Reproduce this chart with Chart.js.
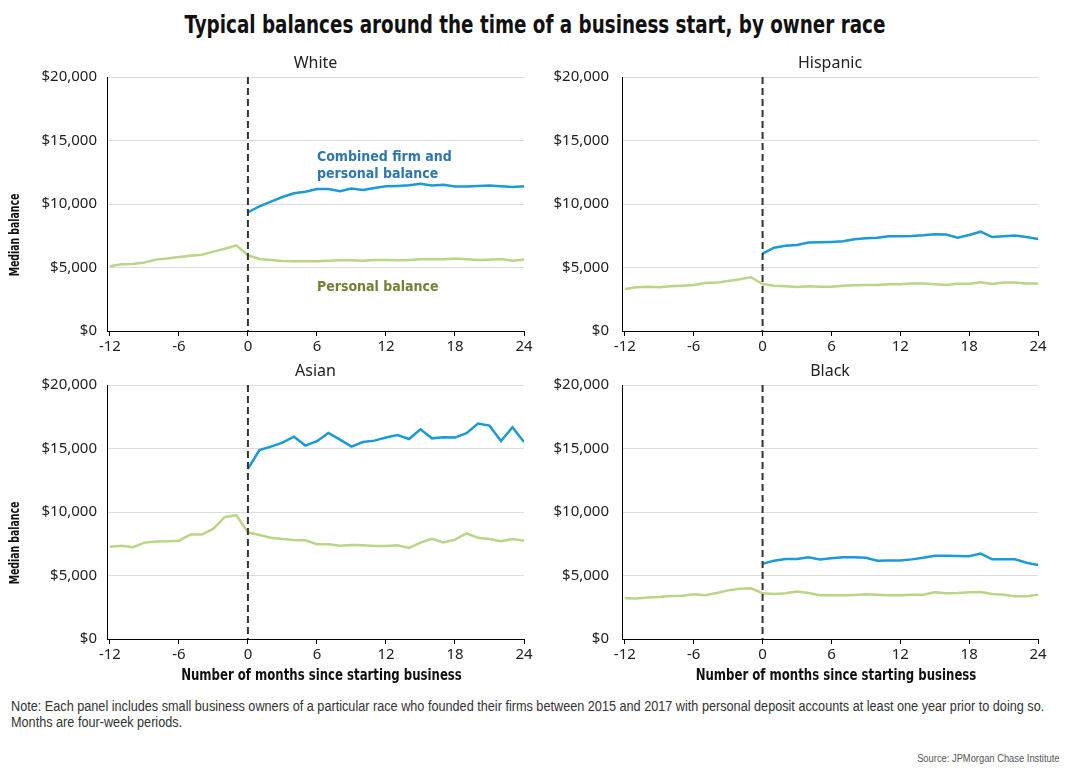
<!DOCTYPE html>
<html>
<head>
<meta charset="utf-8">
<script src="https://cdn.jsdelivr.net/npm/chart.js@4.4.1/dist/chart.umd.min.js"></script>
<style>
  body { margin: 0; background: #fff; width: 1070px; height: 770px; position: relative; overflow: hidden; }
  canvas { position: absolute; }
  #title { position: absolute; top: 10px; left: 0; width: 1070px; text-align: center; white-space: nowrap;
    font: bold 25px "DejaVu Sans Condensed", sans-serif; color: #111; transform: scaleX(0.815); }
  #note { position: absolute; left: 11px; top: 698px; white-space: nowrap; transform: scaleX(0.905); transform-origin: left top;
    font: 14px "Liberation Sans", sans-serif; color: #333; line-height: 16px; }
  #source { position: absolute; right: 10px; top: 752px; transform: scaleX(0.85); transform-origin: right top;
    font: 11px "Liberation Sans", sans-serif; color: #555; }
</style>
</head>
<body>
<div id="title">Typical balances around the time of a business start, by owner race</div>
<canvas id="white" width="540" height="321" style="left:0;top:40px"></canvas>
<canvas id="hispanic" width="514" height="321" style="left:540px;top:40px"></canvas>
<canvas id="asian" width="540" height="339" style="left:0;top:350px"></canvas>
<canvas id="black" width="514" height="339" style="left:540px;top:350px"></canvas>
<div id="note">Note: Each panel includes small business owners of a particular race who founded their firms between 2015 and 2017 with personal deposit accounts at least one year prior to doing so.<br>Months are four-week periods.</div>
<div id="source">Source: JPMorgan Chase Institute</div>
<script>
const months = [-12,-11,-10,-9,-8,-7,-6,-5,-4,-3,-2,-1,0,1,2,3,4,5,6,7,8,9,10,11,12,13,14,15,16,17,18,19,20,21,22,23,24];
const xTicks = [-12, -6, 0, 6, 12, 18, 24];
const yTicks = [0, 5000, 10000, 15000, 20000];

// personal balance, months -12..24
const whitePersonal = [5100,5250,5280,5400,5620,5700,5830,5930,6010,6250,6480,6750,5960,5670,5590,5510,5500,5490,5490,5540,5570,5570,5540,5590,5590,5570,5590,5640,5640,5640,5700,5640,5590,5620,5670,5540,5640];
const hispanicPersonal = [3310,3440,3490,3440,3520,3570,3620,3780,3810,3940,4070,4230,3700,3570,3520,3470,3520,3490,3490,3570,3600,3620,3620,3680,3680,3750,3750,3680,3620,3730,3730,3830,3700,3810,3810,3750,3750];
const asianPersonal = [7270,7350,7220,7590,7670,7690,7740,8220,8220,8690,9610,9740,8400,8190,7980,7880,7800,7770,7460,7460,7350,7400,7380,7320,7320,7380,7170,7590,7880,7610,7820,8320,7980,7880,7690,7880,7740];
const blackPersonal = [3200,3180,3260,3310,3390,3410,3520,3440,3620,3830,3960,3990,3600,3540,3600,3730,3620,3440,3440,3440,3470,3520,3490,3440,3440,3490,3490,3680,3600,3620,3680,3700,3540,3490,3360,3360,3490];

// combined firm and personal balance, months 0..24
const whiteCombined = [9350,9820,10190,10550,10840,10970,11180,11180,11000,11210,11100,11260,11390,11420,11470,11600,11450,11520,11370,11370,11420,11450,11390,11340,11390];
const hispanicCombined = [6090,6560,6720,6770,6960,6980,7010,7060,7220,7300,7350,7460,7460,7480,7530,7610,7590,7350,7560,7820,7400,7460,7510,7400,7250];
const asianCombined = [13390,14880,15150,15460,15930,15230,15570,16220,15700,15150,15510,15620,15860,16060,15750,16510,15800,15880,15860,16200,16960,16800,15590,16670,15510];
const blackCombined = [5930,6170,6300,6300,6430,6270,6350,6430,6430,6400,6170,6190,6190,6270,6400,6560,6560,6530,6510,6720,6270,6270,6270,6010,5830];

const blue = '#1a9ad6';
const green = '#b9d585';
const tickFont = { family: '"Noto Sans", sans-serif', size: 15 };

// panel title, centred over the plot area
const panelTitle = {
  id: 'panelTitle',
  afterDraw(chart, args, opts) {
    const { ctx, chartArea } = chart;
    ctx.save();
    ctx.font = '16px "Noto Sans", sans-serif';
    ctx.fillStyle = '#222';
    ctx.textAlign = 'center';
    ctx.textBaseline = 'middle';
    ctx.fillText(opts.text, (chartArea.left + chartArea.right) / 2, chartArea.top - 14);
    if (opts.yTitle) {
      ctx.translate(15, (chartArea.top + chartArea.bottom) / 2 + 31);
      ctx.rotate(-Math.PI / 2);
      ctx.scale(0.74, 1);
      ctx.font = 'bold 14px "DejaVu Sans Condensed", sans-serif';
      ctx.fillStyle = '#111';
      ctx.fillText('Median balance', 0, 0);
    }
    ctx.restore();
  }
};

// x-axis title, drawn a bit condensed
const xTitle = {
  id: 'xTitle',
  afterDraw(chart, args, opts) {
    if (!opts.show) return;
    const { ctx, chartArea } = chart;
    ctx.save();
    ctx.translate((chartArea.left + chartArea.right) / 2 + 6, chartArea.bottom + 37);
    ctx.scale(0.815, 1);
    ctx.font = 'bold 16px "DejaVu Sans Condensed", sans-serif';
    ctx.fillStyle = '#111';
    ctx.textAlign = 'center';
    ctx.textBaseline = 'middle';
    ctx.fillText('Number of months since starting business', 0, 0);
    ctx.restore();
  }
};

const startLine = {
  id: 'startLine',
  afterDatasetsDraw(chart) {
    const { ctx, chartArea, scales } = chart;
    const x = scales.x.getPixelForValue(0);
    ctx.save();
    ctx.strokeStyle = '#333';
    ctx.lineWidth = 2;
    ctx.setLineDash([7, 4]);
    ctx.beginPath();
    ctx.moveTo(x, chartArea.top);
    ctx.lineTo(x, chartArea.bottom);
    ctx.stroke();
    ctx.restore();
  }
};

const notes = {
  id: 'notes',
  afterDraw(chart, args, opts) {
    if (!opts.items) return;
    const { ctx, scales } = chart;
    ctx.save();
    ctx.font = 'bold 14px "DejaVu Sans Condensed", sans-serif';
    ctx.textAlign = 'left';
    ctx.textBaseline = 'middle';
    opts.items.forEach(n => {
      ctx.fillStyle = n.color;
      ctx.fillText(n.text, scales.x.getPixelForValue(n.x), scales.y.getPixelForValue(n.y));
    });
    ctx.restore();
  }
};

function makePanel(id, title, personal, combined, cfg) {
  const padded = months.map((m, i) => (m < 0 ? null : combined[i - 12]));
  return new Chart(document.getElementById(id), {
    type: 'line',
    data: {
      labels: months,
      datasets: [
        { label: 'Personal balance', data: personal, borderColor: green, borderWidth: 2.5, pointRadius: 0, tension: 0 },
        { label: 'Combined firm and personal balance', data: padded, borderColor: blue, borderWidth: 2.5, pointRadius: 0, tension: 0 }
      ]
    },
    options: {
      responsive: false,
      animation: false,
      layout: { padding: { top: cfg.top, right: 16, left: 0, bottom: 0 } },
      plugins: {
        legend: { display: false },
        tooltip: { enabled: false },
        panelTitle: { text: title, yTitle: cfg.yTitle },
        xTitle: { show: cfg.xTitle },
        notes: { items: cfg.notes }
      },
      scales: {
        x: {
          type: 'linear',
          min: -12.25,
          max: 24,
          afterBuildTicks: s => { s.ticks = xTicks.map(v => ({ value: v })); },
          afterFit: s => { s.height = cfg.xHeight; },
          grid: { drawOnChartArea: false, tickLength: 5, color: '#000' },
          border: { color: '#000', width: 1 },
          ticks: { font: tickFont, color: '#222', padding: 2, maxRotation: 0 }
        },
        y: {
          min: 0,
          max: 20000,
          afterBuildTicks: s => { s.ticks = yTicks.map(v => ({ value: v })); },
          afterFit: s => { s.width = cfg.yWidth; },
          grid: { color: '#dcdcdc', drawTicks: false },
          border: { color: '#000', width: 1 },
          ticks: { font: tickFont, color: '#222', padding: cfg.yPad, callback: v => '$' + v.toLocaleString('en-US') }
        }
      }
    },
    plugins: [panelTitle, xTitle, startLine, notes]
  });
}

makePanel('white', 'White', whitePersonal, whiteCombined, {
  top: 37, xHeight: 30, yWidth: 107, yPad: 10, xTitle: false, yTitle: true,
  notes: [
    { text: 'Combined firm and', x: 6, y: 13700, color: '#2d77ad' },
    { text: 'personal balance', x: 6, y: 12360, color: '#2d77ad' },
    { text: 'Personal balance', x: 6, y: 3460, color: '#6f8236' }
  ]
});
makePanel('hispanic', 'Hispanic', hispanicPersonal, hispanicCombined, {
  top: 37, xHeight: 30, yWidth: 82, yPad: 13, xTitle: false, yTitle: false
});
makePanel('asian', 'Asian', asianPersonal, asianCombined, {
  top: 35, xHeight: 50, yWidth: 107, yPad: 10, xTitle: true, yTitle: true
});
makePanel('black', 'Black', blackPersonal, blackCombined, {
  top: 35, xHeight: 50, yWidth: 82, yPad: 13, xTitle: true, yTitle: false
});
</script>
</body>
</html>
